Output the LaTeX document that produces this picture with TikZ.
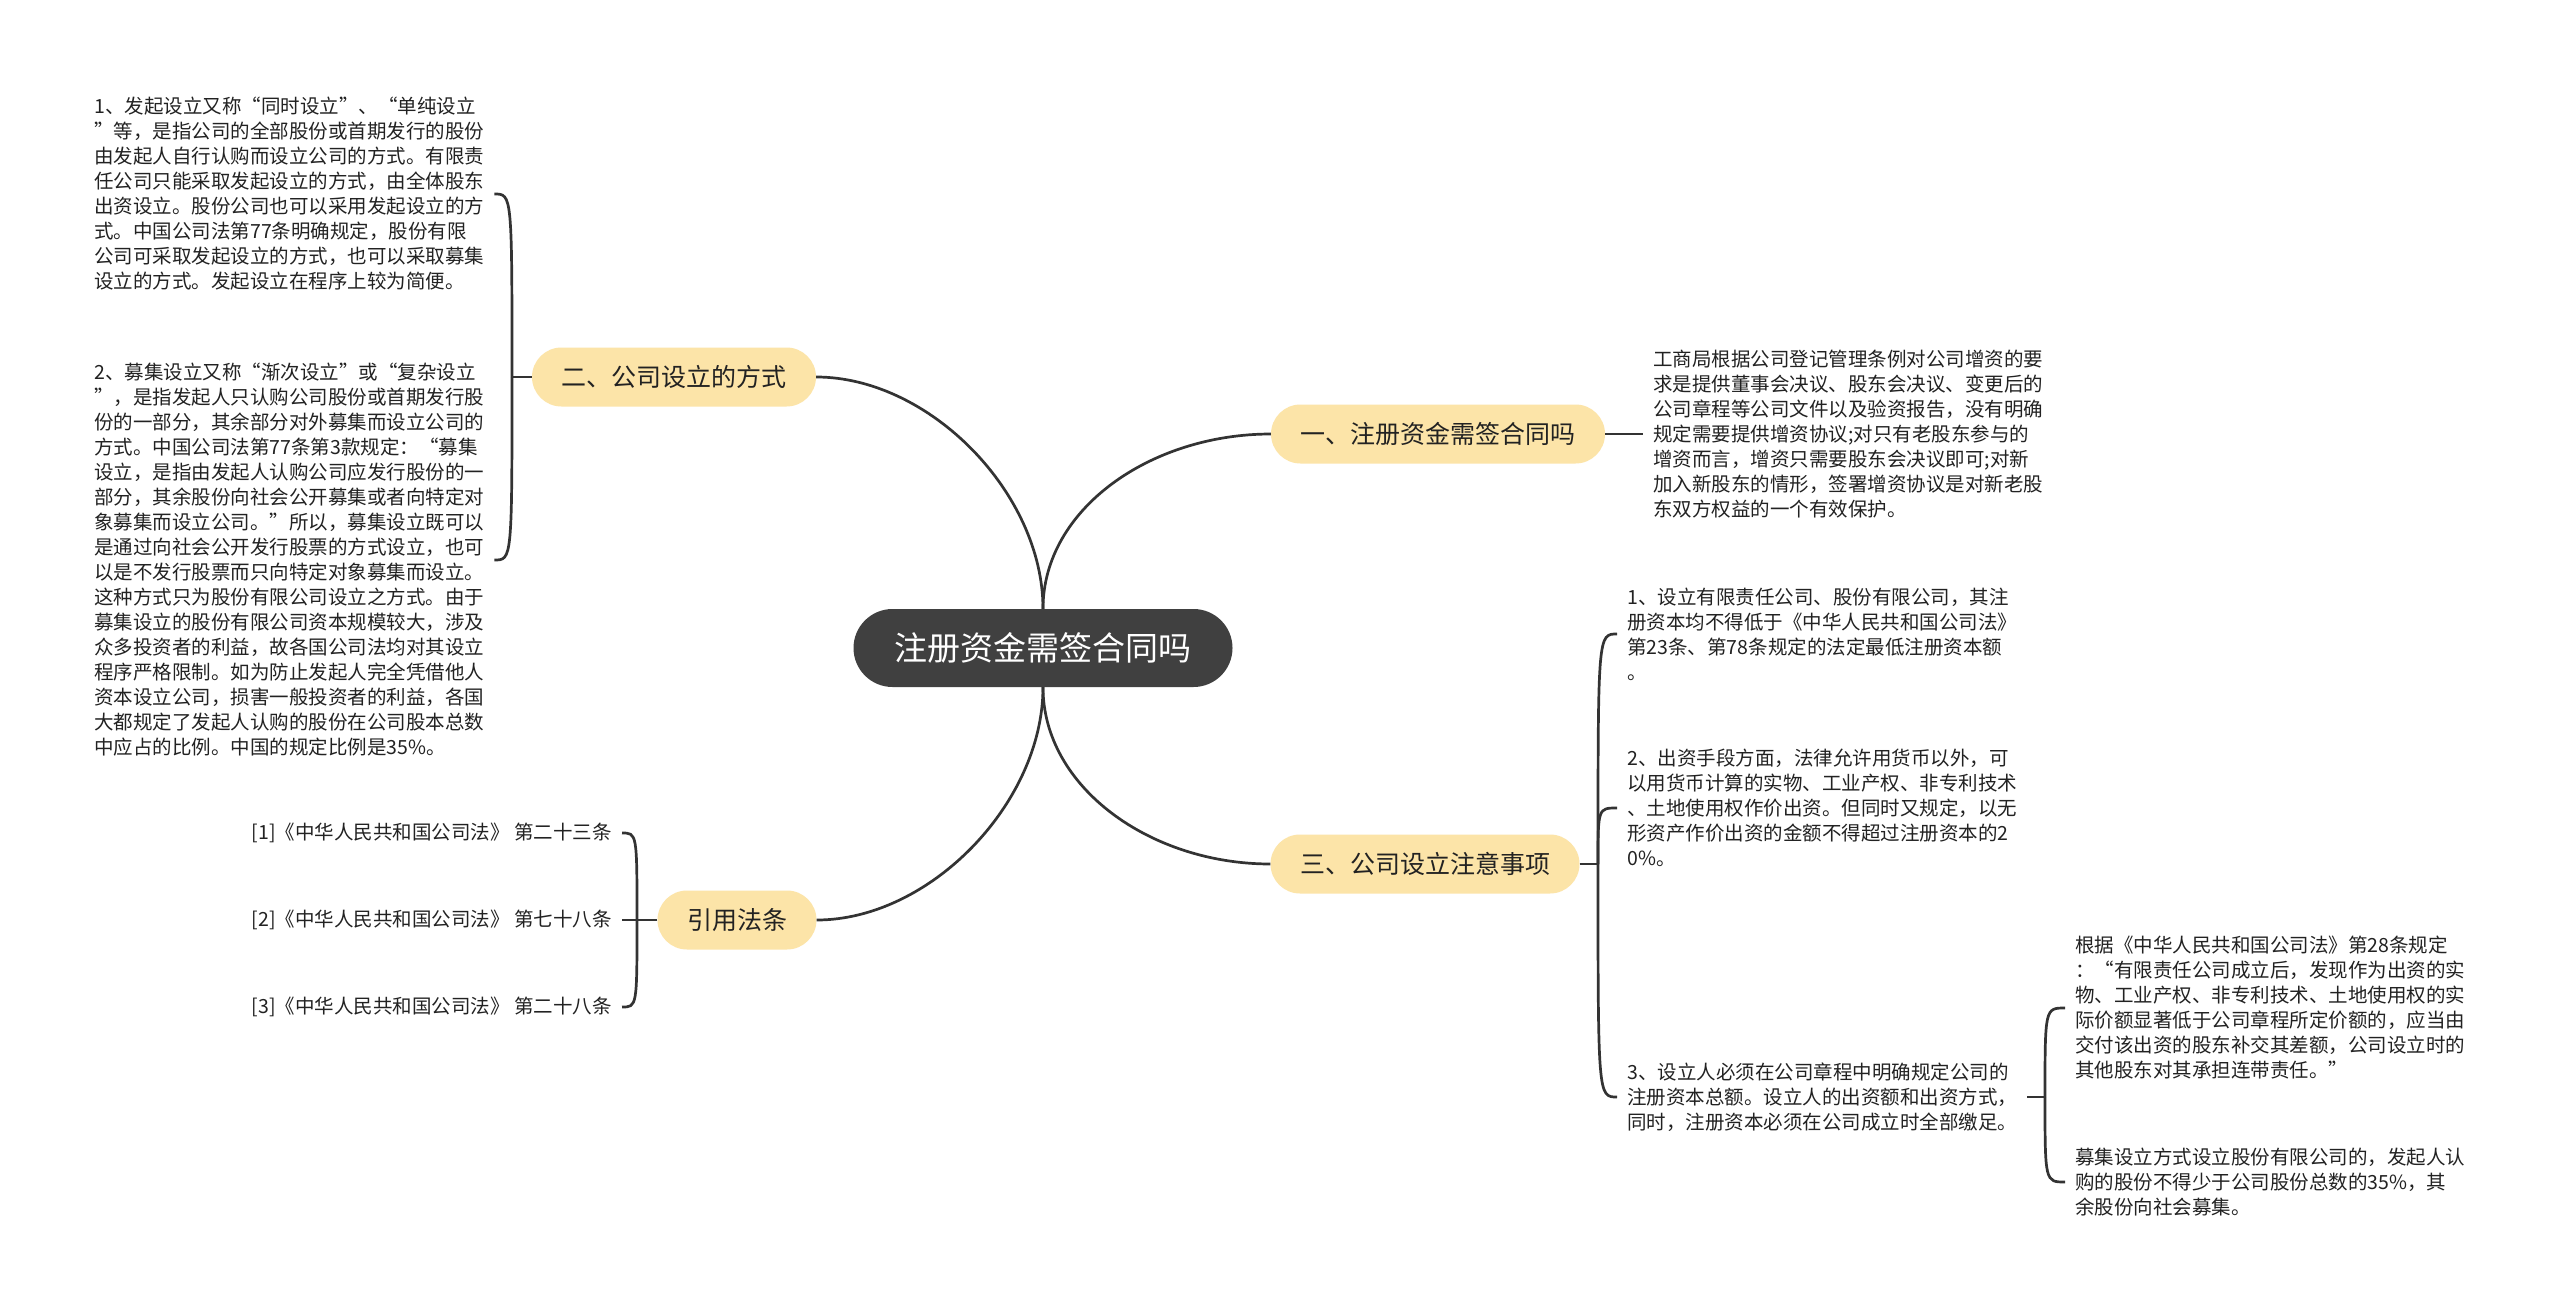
\documentclass[tikz,border=0pt]{standalone}
\usepackage{fontspec}
\setmainfont{Noto Sans CJK SC}
\usetikzlibrary{positioning}
\definecolor{kern}{HTML}{404040}
\definecolor{zweig}{HTML}{FCE4A8}
\definecolor{linie}{HTML}{333333}
\definecolor{schrift}{HTML}{222222}

\begin{document}
\begin{tikzpicture}[x=1pt, y=-1pt, % Pixelraster, y nach unten
    zentrum/.style={fill=kern, text=white, rounded corners=39pt, minimum height=78pt,
        inner xsep=41pt, inner ysep=0pt, font=\fontsize{33}{40}\selectfont},
    ast/.style={fill=zweig, text=schrift, rounded corners=29.5pt, minimum height=59pt,
        inner xsep=29.5pt, inner ysep=0pt, font=\fontsize{25}{30}\selectfont},
    blatt/.style={text=schrift, align=left, inner xsep=10pt, inner ysep=2pt,
        font=\fontsize{19.5}{25}\selectfont},
    verb/.style={draw=linie, line width=2.7pt}]
    % Hintergrund und Rahmen
    \fill[white] (0,0) rectangle (2560,1314);
    \useasboundingbox (0,0) rectangle (2560,1314);
    % Zentrum und Hauptaeste
    \node[zentrum] (kern) at (1043,648) {注册资金需签合同吗};
    \node[ast] (a1) at (1438,434) {一、注册资金需签合同吗};
    \node[ast] (a2) at (674,377) {二、公司设立的方式};
    \node[ast] (a3) at (1425,864) {三、公司设立注意事项};
    \node[ast] (a4) at (737,920) {引用法条};
    % Verbindungen vom Zentrum
    \draw[verb] (kern.north) .. controls +(0,-100) and +(-120,0) .. (a1.west);
    \draw[verb] (kern.north) .. controls +(0,-116) and +(113,0) .. (a2.east);
    \draw[verb] (kern.south) .. controls +(0,100) and +(-120,0) .. (a3.west);
    \draw[verb] (kern.south) .. controls +(0,116) and +(113,0) .. (a4.east);
    % Ast 1
    \node[blatt, anchor=west] (t1) at (1643,434) {工商局根据公司登记管理条例对公司增资的要\\
        求是提供董事会决议、股东会决议、变更后的\\
        公司章程等公司文件以及验资报告，没有明确\\
        规定需要提供增资协议;对只有老股东参与的\\
        增资而言，增资只需要股东会决议即可;对新\\
        加入新股东的情形，签署增资协议是对新老股\\
        东双方权益的一个有效保护。};
    \draw[verb] (a1.east) -- (t1.west);
    % Ast 2
    \node[blatt, anchor=west] (t2a) at (84,194) {1、发起设立又称“同时设立”、“单纯设立\\
        ”等，是指公司的全部股份或首期发行的股份\\
        由发起人自行认购而设立公司的方式。有限责\\
        任公司只能采取发起设立的方式，由全体股东\\
        出资设立。股份公司也可以采用发起设立的方\\
        式。中国公司法第77条明确规定，股份有限\\
        公司可采取发起设立的方式，也可以采取募集\\
        设立的方式。发起设立在程序上较为简便。};
    \node[blatt, anchor=west] (t2b) at (84,560) {2、募集设立又称“渐次设立”或“复杂设立\\
        ”，是指发起人只认购公司股份或首期发行股\\
        份的一部分，其余部分对外募集而设立公司的\\
        方式。中国公司法第77条第3款规定：“募集\\
        设立，是指由发起人认购公司应发行股份的一\\
        部分，其余股份向社会公开募集或者向特定对\\
        象募集而设立公司。”所以，募集设立既可以\\
        是通过向社会公开发行股票的方式设立，也可\\
        以是不发行股票而只向特定对象募集而设立。\\
        这种方式只为股份有限公司设立之方式。由于\\
        募集设立的股份有限公司资本规模较大，涉及\\
        众多投资者的利益，故各国公司法均对其设立\\
        程序严格限制。如为防止发起人完全凭借他人\\
        资本设立公司，损害一般投资者的利益，各国\\
        大都规定了发起人认购的股份在公司股本总数\\
        中应占的比例。中国的规定比例是35\%。};
    \coordinate (g2) at (512,377);
    \draw[verb] (a2.west) -- (g2);
    \foreach \t in {t2a,t2b} {
        \draw[verb] (g2) .. controls (g2 |- \t.east) .. (\t.east);
    }
    % Ast 3
    \node[blatt, anchor=west] (c1) at (1617,634) {1、设立有限责任公司、股份有限公司，其注\\
        册资本均不得低于《中华人民共和国公司法》\\
        第23条、第78条规定的法定最低注册资本额\\
        。};
    \node[blatt, anchor=west] (c2) at (1617,808) {2、出资手段方面，法律允许用货币以外，可\\
        以用货币计算的实物、工业产权、非专利技术\\
        、土地使用权作价出资。但同时又规定，以无\\
        形资产作价出资的金额不得超过注册资本的2\\
        0\%。};
    \node[blatt, anchor=west] (c3) at (1617,1097) {3、设立人必须在公司章程中明确规定公司的\\
        注册资本总额。设立人的出资额和出资方式，\\
        同时，注册资本必须在公司成立时全部缴足。};
    \coordinate (g3) at (1598,864);
    \draw[verb] (a3.east) -- (g3);
    \foreach \t in {c1,c2,c3} {
        \draw[verb] (g3) .. controls (g3 |- \t.west) .. (\t.west);
    }
    % Unterpunkte zu 3
    \node[blatt, anchor=west] (d1) at (2065,1008) {根据《中华人民共和国公司法》第28条规定\\
        ：“有限责任公司成立后，发现作为出资的实\\
        物、工业产权、非专利技术、土地使用权的实\\
        际价额显著低于公司章程所定价额的，应当由\\
        交付该出资的股东补交其差额，公司设立时的\\
        其他股东对其承担连带责任。”};
    \node[blatt, anchor=west] (d2) at (2065,1182) {募集设立方式设立股份有限公司的，发起人认\\
        购的股份不得少于公司股份总数的35\%，其\\
        余股份向社会募集。};
    \coordinate (g4) at (2045,1097);
    \draw[verb] (c3.east) -- (g4);
    \foreach \t in {d1,d2} {
        \draw[verb] (g4) .. controls (g4 |- \t.west) .. (\t.west);
    }
    % Ast 4: Gesetzesstellen
    \foreach \i/\y/\art in {1/833/第二十三条, 2/920/第七十八条, 3/1007/第二十八条} {
        \node[blatt, anchor=east] (l\i) at (622,\y) {[\i]《中华人民共和国公司法》 \art};
    }
    \coordinate (g5) at (637,920);
    \draw[verb] (a4.west) -- (g5) -- (l2.east);
    \foreach \i in {1,3} {
        \draw[verb] (g5) .. controls (g5 |- l\i.east) .. (l\i.east);
    }
\end{tikzpicture}
\end{document}
